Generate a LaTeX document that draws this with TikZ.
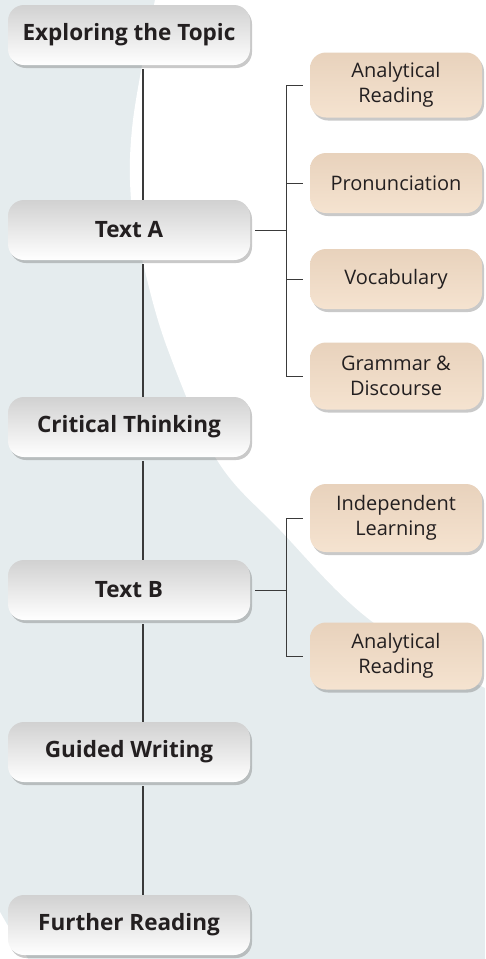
\documentclass[tikz,border=0pt]{standalone}
\usepackage{fontspec}
\setmainfont{Open Sans}
\usetikzlibrary{shadows,positioning}

\definecolor{backblue}{HTML}{E5ECEE}
\definecolor{peach}{HTML}{F5E3D0}
\definecolor{peachedge}{HTML}{E8D2BC}
\definecolor{linegray}{HTML}{3A3A3A}
\definecolor{textdark}{HTML}{231F20}

\tikzset{
    mainbox/.style={rounded corners=16pt, minimum width=242pt, minimum height=60pt,
        top color=black!18, middle color=white, bottom color=white,
        text=textdark, font=\bfseries\fontsize{22.5}{26}\selectfont,
        drop shadow={shadow xshift=2pt, shadow yshift=-3pt, opacity=.35, fill=black!60}},
    subbox/.style={rounded corners=16pt, minimum width=172pt, minimum height=60pt,
        top color=peachedge, middle color=peach, bottom color=peach,
        text=textdark, align=center, font=\fontsize{20}{25}\selectfont,
        drop shadow={shadow xshift=2pt, shadow yshift=-3pt, opacity=.35, fill=black!60}},
    trunk/.style={draw=linegray, line width=1.1pt},
    twig/.style={draw=linegray, line width=1pt},
}

\begin{document}
\begin{tikzpicture}[x=1pt, y=-1pt]
    % Background
    \useasboundingbox[fill=backblue] (0,0) rectangle (485,959);
    \fill[white] plot[smooth, tension=.6] coordinates {(155,0) (133,120) (131,200) (143,263) (168,350) (217,460) (280,530) (370,620) (485,688)} -- (485,0) -- cycle;
    \fill[white] (0,912) .. controls (10,930) and (20,945) .. (28,959) -- (0,959) -- cycle;

    % Main column
    \node[mainbox] (explore)  at (129,35)  {Exploring the Topic};
    \node[mainbox] (textA)    at (129,230) {Text A};
    \node[mainbox] (critical) at (129,427) {Critical Thinking};
    \node[mainbox] (textB)    at (129,590) {Text B};
    \node[mainbox] (guided)   at (129,752) {Guided Writing};
    \node[mainbox] (further)  at (129,925) {Further Reading};

    \foreach \a/\b in {explore/textA, textA/critical, critical/textB, textB/guided, guided/further}
        \draw[trunk, shorten <=4pt] ([xshift=14pt]\a.south) -- ([xshift=14pt]\b.north);

    % Text A branches
    \node[subbox, minimum height=65pt] (readA) at (396,85)  {Analytical\\Reading};
    \node[subbox]                      (pron)  at (396,183) {Pronunciation};
    \node[subbox]                      (vocab) at (396,279) {Vocabulary};
    \node[subbox, minimum height=67pt] (gram)  at (396,376) {Grammar \&\\Discourse};

    % Text B branches
    \node[subbox, minimum height=68pt] (indep) at (396,518) {Independent\\Learning};
    \node[subbox, minimum height=67pt] (readB) at (396,656) {Analytical\\Reading};

    % Brackets
    \coordinate (forkA) at (286,230);
    \coordinate (forkB) at (286,590);
    \draw[twig] ([xshift=5pt]textA.east) -- (forkA);
    \draw[twig] ([xshift=-7pt]readA.west) -- (readA -| forkA) -- (gram -| forkA) -- ([xshift=-7pt]gram.west);
    \draw[twig] (pron -| forkA) -- ([xshift=-7pt]pron.west);
    \draw[twig] (vocab -| forkA) -- ([xshift=-7pt]vocab.west);
    \draw[twig] ([xshift=5pt]textB.east) -- (forkB);
    \draw[twig] ([xshift=-7pt]indep.west) -- (indep -| forkB) -- (readB -| forkB) -- ([xshift=-7pt]readB.west);
\end{tikzpicture}
\end{document}
